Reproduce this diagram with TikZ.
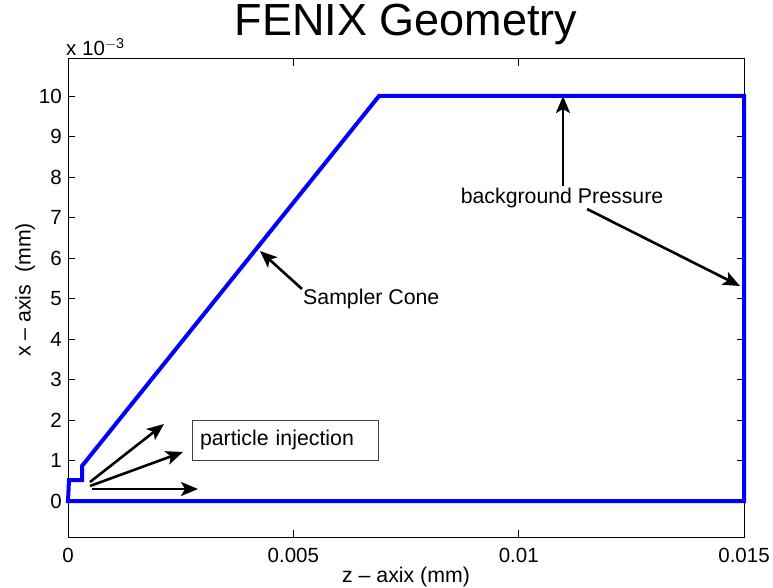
\documentclass[tikz,border=0pt]{standalone}
\usepackage{fontspec}
\setmainfont{Liberation Sans}
\usetikzlibrary{arrows.meta}
\begin{document}
\begin{tikzpicture}[x=1pt,y=-1pt,
  axisline/.style={black,line width=1pt},
  tickmark/.style={black,line width=0.8pt},
  geom/.style={blue,line width=4pt,line join=miter},
  annarrow/.style={black,line width=2.6pt,-{Stealth[length=17pt,width=14pt,inset=4pt]}},
  ticklab/.style={font=\fontsize{20.5}{24}\selectfont,inner sep=0pt},
  lab/.style={font=\fontsize{21.3}{25}\selectfont,inner sep=0pt},
  ttl/.style={font=\fontsize{45}{50}\selectfont,inner sep=0pt},
  annbox/.style={draw=black!75,line width=0.9pt,font=\fontsize{21.3}{25}\selectfont,minimum width=186pt,minimum height=40pt,inner sep=0pt,text width=170pt,align=left}
]
\useasboundingbox (0,0) rectangle (773,588);
\fill[white] (0,0) rectangle (773,588);
% axes box
\draw[axisline] (68,59) rectangle (744,537);
% y ticks
\foreach \v in {0,...,10}{
  \draw[tickmark] (68,{501-40.5*\v}) -- (75,{501-40.5*\v});
  \draw[tickmark] (744,{501-40.5*\v}) -- (737,{501-40.5*\v});
  \node[ticklab,anchor=east] (yt\v) at (62,{501-40.5*\v}) {\v};
}
% x ticks
\foreach \xx/\lbl/\nm in {68/0/a,293.3/0.005/b,518.7/0.01/c,744/0.015/d}{
  \draw[tickmark] (\xx,537) -- (\xx,530);
  \draw[tickmark] (\xx,59) -- (\xx,66);
  \node[ticklab] (xt\nm) at (\xx,555) {\lbl};
}
\node[ticklab,anchor=west] (expo) at (66,47) {x 10$^{\mathrm{-3}}$};
% labels
\node[lab] (xlab) at (406,577) {z – axix (mm)};
\node[lab,rotate=90] (ylab) at (25,290) {x – axis\ \ (mm)};
\node[ttl] (title) at (406,24) {FENIX Geometry};
% geometry
\draw[geom] (68,501) -- (744,501) -- (744,96) -- (379,96) -- (82,466) -- (82,480) -- (69,480) -- cycle;
% annotations
\node[lab] (bgp) at (562,198) {background Pressure};
\coordinate (bgpTop) at (563,186);
\coordinate (bgpTopHead) at (563,96);
\coordinate (bgpSide) at (587,209);
\coordinate (bgpSideHead) at (740,286);
\draw[annarrow] (bgpTop) -- (bgpTopHead);
\draw[annarrow] (bgpSide) -- (bgpSideHead);
\node[lab,anchor=west] (cone) at (303,299) {Sampler Cone};
\coordinate (coneTail) at (302,289);
\coordinate (coneHead) at (260,251);
\draw[annarrow] (coneTail) -- (coneHead);
\node[annbox] (inj) at (285,440) {particle injection};
\coordinate (t1) at (90,482);
\coordinate (t2) at (90,486);
\coordinate (t3) at (92,489);
\coordinate (h1) at (164,424);
\coordinate (h2) at (183,452);
\coordinate (h3) at (198,489);
\draw[annarrow] (t1) -- (h1);
\draw[annarrow] (t2) -- (h2);
\draw[annarrow] (t3) -- (h3);
\end{tikzpicture}
\end{document}
